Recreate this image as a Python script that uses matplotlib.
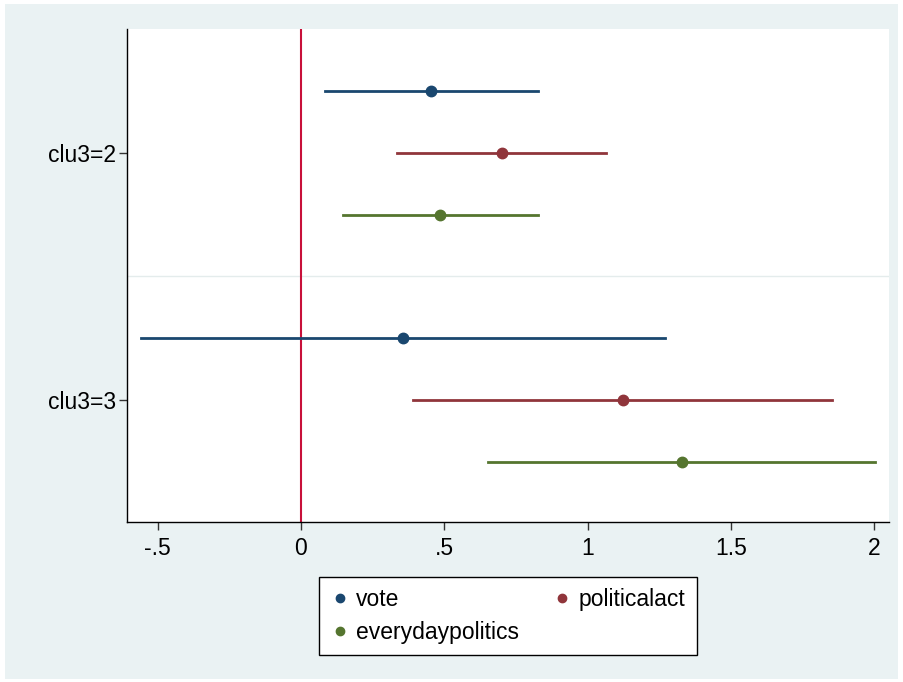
import matplotlib.pyplot as plt
from matplotlib.patches import Rectangle
from matplotlib.lines import Line2D

plt.rcParams['font.family'] = ['Liberation Sans', 'DejaVu Sans']

# coefficients and 95% CI
groupes = ["clu3=2", "clu3=3"]
series = ["vote", "politicalact", "everydaypolitics"]
couleurs = ["#1a476f", "#90353b", "#55752f"]

coef = {
    "vote":             [0.454, 0.356],
    "politicalact":     [0.702, 1.124],
    "everydaypolitics": [0.485, 1.330],
}
ci_bas = {
    "vote":             [0.084, -0.558],
    "politicalact":     [0.335, 0.391],
    "everydaypolitics": [0.147, 0.653],
}
ci_haut = {
    "vote":             [0.827, 1.270],
    "politicalact":     [1.065, 1.853],
    "everydaypolitics": [0.827, 2.003],
}
decalage = [-0.25, 0.0, 0.25]

fig = plt.figure(figsize=(9.04, 6.82), dpi=100, facecolor="white")
fig.patches.append(Rectangle((5 / 904, 0.005), 893 / 904, 0.989,
                             transform=fig.transFigure, facecolor="#eaf2f3",
                             edgecolor="none", zorder=-10))

ax = fig.add_axes([127 / 904, 1 - 522 / 682, (889 - 127) / 904, (522 - 29) / 682])
ax.set_facecolor("white")

ax.axvline(0, color="#c8103a", lw=1.5, zorder=1)
ax.axhline(1.5, color="#e4ecec", lw=1, zorder=0)

for s, couleur, d in zip(series, couleurs, decalage):
    for i in range(len(groupes)):
        y = i + 1 + d
        ax.plot([ci_bas[s][i], ci_haut[s][i]], [y, y], color=couleur, lw=2, zorder=2)
        ax.plot(coef[s][i], y, "o", color=couleur, ms=7.5, zorder=3)

ax.set_xlim(-0.607, 2.052)
ax.set_ylim(2.494, 0.498)
ax.set_xticks([-0.5, 0, 0.5, 1, 1.5, 2])
ax.set_xticklabels(["-.5", "0", ".5", "1", "1.5", "2"])
ax.set_yticks([1, 2])
ax.set_yticklabels(groupes)
ax.tick_params(axis="both", labelsize=16.5, length=6, width=1, color="#333333")
ax.tick_params(axis="x", pad=5)
ax.tick_params(axis="y", pad=2)

for cote in ["top", "right"]:
    ax.spines[cote].set_visible(False)
for cote in ["left", "bottom"]:
    ax.spines[cote].set_color("black")
    ax.spines[cote].set_linewidth(1)

# legend filled row by row: vote, politicalact / everydaypolitics
ordre = [0, 2, 1]
poignees = [Line2D([], [], marker="o", ls="none", color=couleurs[k], ms=6) for k in ordre]
leg = fig.legend(poignees, [series[k] for k in ordre], ncol=2, loc="center",
                 bbox_to_anchor=(508 / 904, 1 - 616 / 682),
                 fontsize=16.5, frameon=True, fancybox=False, framealpha=1,
                 facecolor="white", edgecolor="black", handletextpad=0.3,
                 columnspacing=1.5, borderpad=0.5, handlelength=0.8,
                 labelspacing=0.4)
leg.get_frame().set_linewidth(1)

fig.savefig("out.png", dpi=100, facecolor=fig.get_facecolor())
